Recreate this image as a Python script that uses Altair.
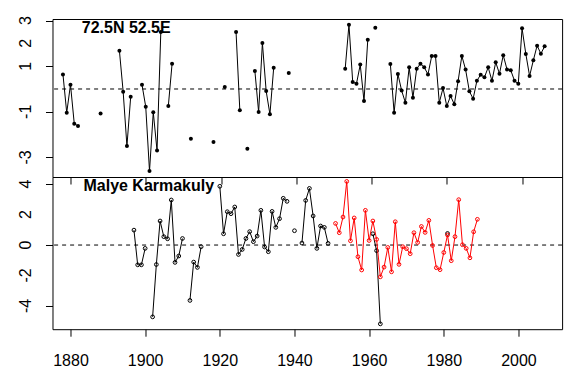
import altair as alt
import pandas as pd

# ---------------- data ----------------
top_label = "72.5N 52.5E"
bottom_label = "Malye Karmakuly"

top_years = [1878, 1879, 1880, 1881, 1882, 1888, 1893, 1894, 1895, 1896,
             1899, 1900, 1901, 1902, 1903, 1904, 1906, 1907, 1912, 1918,
             1921, 1924, 1925, 1927, 1929, 1930, 1931, 1932, 1933, 1934,
             1938, 1953, 1954, 1955, 1956, 1957, 1958, 1959, 1961] + list(range(1965, 2007))
top_values = [0.64, -1.04, 0.19, -1.52, -1.62, -1.08, 1.68, -0.12, -2.50, -0.34,
              0.19, -0.78, -3.60, -1.02, -2.70, 2.50, -0.75, 1.11, -2.18, -2.32,
              0.09, 2.50, -0.93, -2.62, 0.79, -1.01, 2.02, -0.09, -1.11, 0.93,
              0.70, 0.89, 2.82, 0.31, 0.23, 1.07, -0.53, 2.16, 2.69,
              1.10, -1.04, 0.66, -0.07, -0.60, 0.95, -0.38, 0.89, 1.11, 0.95,
              0.64, 1.45, 1.45, -0.60, 0.04, -0.75, -0.31, -0.67, 0.34, 1.45,
              0.85, -0.10, -0.43, 0.36, 0.63, 0.51, 0.95, 0.36, 1.17, 0.67,
              1.48, 0.86, 0.82, 0.36, 0.23, 2.66, 1.54, 0.57, 1.26, 1.90,
              1.55, 1.87]

black_years = [1897, 1898, 1899, 1900, 1902, 1903, 1904, 1905, 1906, 1907,
               1908, 1909, 1910, 1912, 1913, 1914, 1915, 1920, 1921, 1922,
               1923, 1924, 1925, 1926, 1927, 1928, 1929, 1930, 1931, 1932,
               1933, 1934, 1935, 1936, 1937, 1938, 1940, 1942, 1943, 1944,
               1945, 1946, 1947, 1948, 1949, 1961, 1962, 1963, 1981]
black_values = [0.98, -1.30, -1.30, -0.22, -4.72, -1.28, 1.58, 0.55, 0.41, 2.96,
                -1.14, -0.72, 0.43, -3.64, -1.12, -1.47, -0.11, 3.86, 0.74, 2.19,
                2.06, 2.50, -0.62, -0.29, 0.43, 0.88, 0.22, 0.59, 2.28, -0.13,
                -0.44, 2.21, 1.16, 1.73, 3.07, 2.87, 0.94, 0.13, 2.93, 3.72,
                1.91, -0.22, 1.25, 1.16, 0.11, 0.74, -0.37, -5.18, 0.76]

red_years = list(range(1951, 1990))
red_values = [1.42, 0.81, 1.84, 4.18, 0.28, 1.78, -0.77, -1.64, 2.28, 0.30,
              1.58, 0.37, -2.09, -1.45, -0.16, -1.76, 1.53, -1.27, -0.11, -0.24,
              -0.57, 0.81, 0.17, 1.22, 0.83, 1.62, -0.03, -1.49, -1.62, -0.49,
              0.66, -1.03, 0.55, 2.98, 0.02, -0.22, -0.84, 0.87, 1.69]

x_ticks = [1880, 1900, 1920, 1940, 1960, 1980, 2000]
top_y_ticks = [-3, -2, -1, 0, 1, 2, 3]
top_y_labels = [-3, -1, 1, 2, 3]
bottom_y_ticks = [-4, -2, 0, 2, 4]
bottom_y_labels = [-4, -2, 0, 2, 4]


def segments(years):
    seg, s = [], 0
    for i, yr in enumerate(years):
        if i > 0 and yr - years[i - 1] > 1:
            s += 1
        seg.append(s)
    return seg


top_df = pd.DataFrame({"year": top_years, "value": top_values, "seg": segments(top_years)})
black_df = pd.DataFrame({"year": black_years, "value": black_values, "seg": segments(black_years)})
red_df = pd.DataFrame({"year": red_years, "value": red_values, "seg": segments(red_years)})
top_lab_df = pd.DataFrame({"value": top_y_labels, "t": [str(v) for v in top_y_labels]})
bot_lab_df = pd.DataFrame({"value": bottom_y_labels, "t": [str(v) for v in bottom_y_labels]})

# ---------------- style ----------------
FONT = "Liberation Sans"
W = 509.6
H_TOP = 158
H_BOT = 152.2
FS = 16
YLAB_X = -21.3   # baseline of rotated y labels, relative to the plot's left edge

yaxis_common = dict(title=None, grid=False, domain=False, tickSize=7, tickColor="black",
                    labels=False)


def ylabels(df, yenc):
    return alt.Chart(df).mark_text(
        angle=270, align="center", baseline="alphabetic", font=FONT, fontSize=FS,
        color="black").encode(x=alt.value(YLAB_X), y=yenc, text="t:N")


# ---------------- top panel ----------------
x_top = alt.X("year:Q",
              scale=alt.Scale(domain=[1875.22, 2010.64], nice=False, zero=False),
              axis=alt.Axis(values=x_ticks, labels=False, title=None, grid=False,
                            domain=False, tickSize=7, tickColor="black"))
y_top = alt.Y("value:Q",
              scale=alt.Scale(domain=[-3.86, 3.07], nice=False, zero=False),
              axis=alt.Axis(values=top_y_ticks, **yaxis_common))

top_base = alt.Chart(top_df).encode(x=x_top, y=y_top)
top_zero = alt.Chart(pd.DataFrame({"value": [0]})).mark_rule(
    color="black", strokeWidth=1, strokeDash=[4, 4]).encode(y=alt.Y("value:Q"))
top_line = top_base.mark_line(color="black", strokeWidth=1).encode(detail="seg:N")
top_pts = top_base.mark_point(shape="circle", filled=True, size=16, color="black", opacity=1)
top_text = alt.Chart(pd.DataFrame({"t": [top_label]})).mark_text(
    align="left", baseline="alphabetic", font=FONT, fontSize=16, fontWeight="bold",
    color="black").encode(x=alt.value(29.3), y=alt.value(14.4), text="t:N")
top_ylab = ylabels(top_lab_df, alt.Y("value:Q"))

top = alt.layer(top_zero, top_line, top_pts, top_text, top_ylab).properties(
    width=W, height=H_TOP)

# ---------------- bottom panel ----------------
x_bot = alt.X("year:Q",
              scale=alt.Scale(domain=[1875.18, 2011.69], nice=False, zero=False),
              axis=alt.Axis(values=x_ticks, format="d", title=None, grid=False, domain=False,
                            tickSize=7, tickColor="black", labelPadding=16.5,
                            labelFont=FONT, labelFontSize=FS, labelColor="black",
                            labelOverlap=False, labelFlush=False))
y_bot = alt.Y("value:Q",
              scale=alt.Scale(domain=[-5.53, 4.47], nice=False, zero=False),
              axis=alt.Axis(values=bottom_y_ticks, **yaxis_common))

bot_zero = alt.Chart(pd.DataFrame({"value": [0]})).mark_rule(
    color="black", strokeWidth=1, strokeDash=[4, 4]).encode(y=alt.Y("value:Q"))
blk_base = alt.Chart(black_df).encode(x=x_bot, y=y_bot)
red_base = alt.Chart(red_df).encode(x=x_bot, y=y_bot)
blk_line = blk_base.mark_line(color="black", strokeWidth=1).encode(detail="seg:N")
blk_pts = blk_base.mark_point(shape="circle", filled=False, size=14, strokeWidth=1,
                              color="black", opacity=1)
red_line = red_base.mark_line(color="#ff0000", strokeWidth=1).encode(detail="seg:N")
red_pts = red_base.mark_point(shape="circle", filled=False, size=14, strokeWidth=1,
                              color="#ff0000", opacity=1)
bot_text = alt.Chart(pd.DataFrame({"t": [bottom_label]})).mark_text(
    align="left", baseline="alphabetic", font=FONT, fontSize=16, fontWeight="bold",
    color="black").encode(x=alt.value(31), y=alt.value(14), text="t:N")
bot_ylab = ylabels(bot_lab_df, alt.Y("value:Q"))

bottom = alt.layer(bot_zero, blk_line, blk_pts, red_line, red_pts, bot_text, bot_ylab).properties(
    width=W, height=H_BOT)

chart = alt.vconcat(top, bottom, spacing=0, bounds="flush").properties(
    padding={"left": 9.5, "top": 7, "right": 5, "bottom": 5},
    background="white",
).configure_view(stroke="black", strokeWidth=1)

chart.save("out.html", embed_options={"renderer": "svg", "actions": False})
